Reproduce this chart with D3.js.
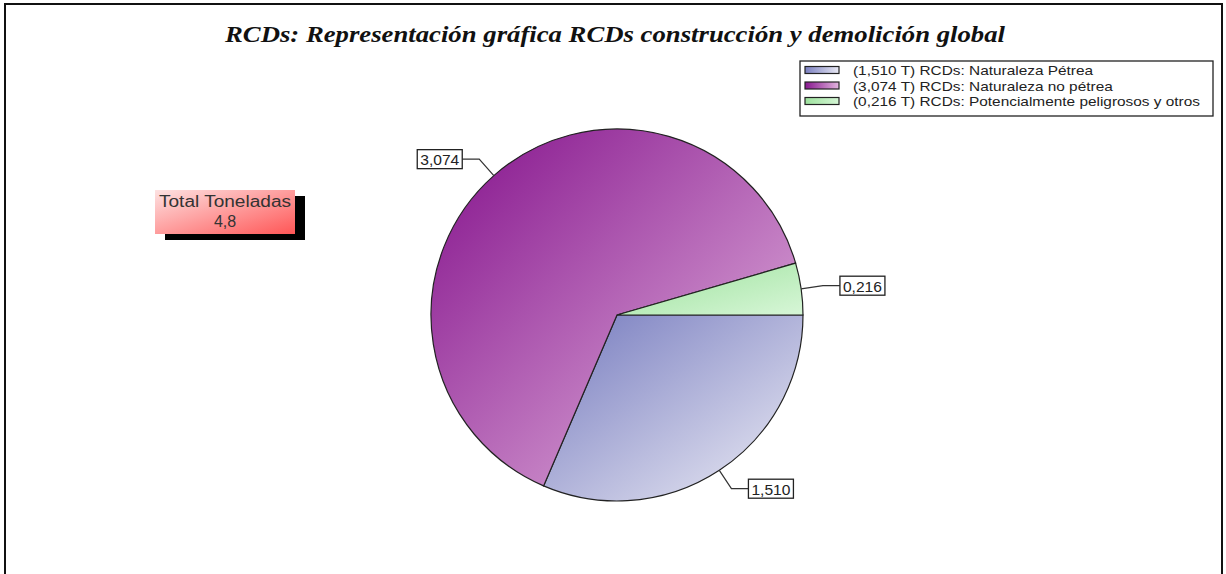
<!DOCTYPE html>
<html>
<head>
  <meta charset="utf-8">
  <script src="https://d3js.org/d3.v7.min.js"></script>
  <style>
    body { margin: 0; background: #fff; }
    svg { display: block; }
  </style>
</head>
<body>
<div id="chart"></div>

<script>
  // Chart data
  const categories = ["RCDs: Naturaleza Pétrea", "RCDs: Naturaleza no pétrea", "RCDs: Potencialmente peligrosos y otros"];
  const values = [1.510, 3.074, 0.216];
  const darkColors = ["#7b80c1", "#88188f", "#9ee29e"];
  const lightColors = ["#e8e8f3", "#e2b4de", "#d4f5d4"];
  const titleText = "RCDs: Representación gráfica RCDs construcción y demolición global";
  const totalLabel = "Total Toneladas";

  var width = 1226;
  var height = 574;
  var sans = "Liberation Sans, Arial, sans-serif";

  // Spanish number formatting (comma as decimal mark)
  var es = d3.formatLocale({decimal: ",", thousands: ".", grouping: [3], currency: ["", " €"]});
  var fmt3 = es.format(".3f");
  var fmtTotal = es.format(".1f");

  var svg = d3.select("#chart").append("svg")
      .attr("width", width)
      .attr("height", height);

  var defs = svg.append("defs");

  // Frame around the chart (bottom edge falls outside the picture)
  svg.append("path")
      .attr("d", "M5,580 L5,4 L1222,4 L1222,580")
      .attr("fill", "none")
      .attr("stroke", "#111")
      .attr("stroke-width", 2);

  // Title
  svg.append("text")
      .attr("x", 615)
      .attr("y", 42)
      .attr("text-anchor", "middle")
      .attr("font-family", "Liberation Serif, serif")
      .attr("font-style", "italic")
      .attr("font-weight", "bold")
      .attr("font-size", 24)
      .attr("textLength", 780)
      .attr("lengthAdjust", "spacingAndGlyphs")
      .attr("fill", "#111")
      .text(titleText);

  // Slice gradients (diagonal, dark top-left to light bottom-right)
  categories.forEach(function(c, i) {
    var g = defs.append("linearGradient")
        .attr("id", "slice" + i)
        .attr("x1", 0).attr("y1", 0).attr("x2", 1).attr("y2", 1);
    g.append("stop").attr("offset", "5%").attr("stop-color", darkColors[i]);
    g.append("stop").attr("offset", "95%").attr("stop-color", lightColors[i]);

    var l = defs.append("linearGradient")
        .attr("id", "leg" + i)
        .attr("x1", 0).attr("y1", 0).attr("x2", 1).attr("y2", 0);
    l.append("stop").attr("offset", "0%").attr("stop-color", darkColors[i]);
    l.append("stop").attr("offset", "100%").attr("stop-color", lightColors[i]);
  });

  // Pie
  var cx = 617, cy = 315, radius = 186;

  var pie = d3.pie()
      .sort(null)
      .startAngle(Math.PI / 2)
      .endAngle(Math.PI / 2 + 2 * Math.PI);

  var arc = d3.arc().innerRadius(0).outerRadius(radius);

  var arcs = pie(values);

  var pieG = svg.append("g")
      .attr("transform", "translate(" + cx + "," + cy + ")");

  pieG.selectAll("path.slice")
      .data(arcs)
      .enter()
      .append("path")
      .attr("class", "slice")
      .attr("d", arc)
      .attr("fill", function(d, i) { return "url(#slice" + i + ")"; })
      .attr("stroke", "#222")
      .attr("stroke-width", 1.2);

  // Value labels with leader lines
  arcs.forEach(function(d) {
    var a = (d.startAngle + d.endAngle) / 2;
    var sx = Math.sin(a), sy = -Math.cos(a);
    var p0 = [sx * radius, sy * radius];
    var p1 = [sx * (radius + 22), sy * (radius + 22)];
    var dir = sx >= 0 ? 1 : -1;
    var p2 = [p1[0] + dir * 17, p1[1]];

    pieG.append("polyline")
        .attr("points", [p0, p1, p2].map(function(p) { return p.join(","); }).join(" "))
        .attr("fill", "none")
        .attr("stroke", "#333")
        .attr("stroke-width", 1.2);

    var w = 45;
    var bx = dir > 0 ? p2[0] : p2[0] - w;
    pieG.append("rect")
        .attr("x", bx)
        .attr("y", p2[1] - 9.5)
        .attr("width", w)
        .attr("height", 19)
        .attr("fill", "#fff")
        .attr("stroke", "#222")
        .attr("stroke-width", 1.3);
    pieG.append("text")
        .attr("x", bx + w / 2)
        .attr("y", p2[1] + 1)
        .attr("text-anchor", "middle")
        .attr("dominant-baseline", "central")
        .attr("font-family", sans)
        .attr("font-size", 14)
        .attr("textLength", 39)
        .attr("lengthAdjust", "spacingAndGlyphs")
        .attr("fill", "#222")
        .text(fmt3(d.value));
  });

  // Legend
  var legend = svg.append("g").attr("transform", "translate(800,61)");
  legend.append("rect")
      .attr("width", 413)
      .attr("height", 55)
      .attr("fill", "#fff")
      .attr("stroke", "#222")
      .attr("stroke-width", 1.3);

  var rowY = d3.scalePoint().domain(d3.range(categories.length)).range([9, 40]);

  var legTexts = [];
  categories.forEach(function(c, i) {
    legend.append("rect")
        .attr("x", 5)
        .attr("y", rowY(i) - 3.5)
        .attr("width", 34)
        .attr("height", 7)
        .attr("fill", "url(#leg" + i + ")")
        .attr("stroke", "#222")
        .attr("stroke-width", 1.2);
    legTexts.push(legend.append("text")
        .attr("x", 53)
        .attr("y", rowY(i) + 0.5)
        .attr("dominant-baseline", "central")
        .attr("font-family", sans)
        .attr("font-size", 13.5)
        .attr("fill", "#222")
        .text("(" + fmt3(values[i]) + " T) " + c));
  });
  // stretch legend text so the longest line fills the box like the original
  var longest = d3.max(legTexts, function(t) { return t.node().getComputedTextLength(); });
  var stretch = 347 / longest;
  legTexts.forEach(function(t) {
    t.attr("textLength", t.node().getComputedTextLength() * stretch)
     .attr("lengthAdjust", "spacingAndGlyphs");
  });

  // Total box with drop shadow
  var totalGrad = defs.append("linearGradient")
      .attr("id", "totalGrad")
      .attr("x1", 0).attr("y1", 0).attr("x2", 1).attr("y2", 1);
  totalGrad.append("stop").attr("offset", "0%").attr("stop-color", "#fde2e2");
  totalGrad.append("stop").attr("offset", "100%").attr("stop-color", "#ff5656");

  var total = d3.sum(values);
  var tb = svg.append("g").attr("transform", "translate(155,190)");
  tb.append("rect")
      .attr("x", 10).attr("y", 6)
      .attr("width", 140).attr("height", 44)
      .attr("fill", "#000");
  tb.append("rect")
      .attr("width", 140).attr("height", 44)
      .attr("fill", "url(#totalGrad)");
  tb.append("text")
      .attr("x", 70).attr("y", 17)
      .attr("text-anchor", "middle")
      .attr("font-family", sans)
      .attr("font-size", 16)
      .attr("textLength", 132)
      .attr("lengthAdjust", "spacingAndGlyphs")
      .attr("fill", "#333")
      .text(totalLabel);
  tb.append("text")
      .attr("x", 70).attr("y", 37)
      .attr("text-anchor", "middle")
      .attr("font-family", sans)
      .attr("font-size", 16)
      .attr("fill", "#333")
      .text(fmtTotal(total));
</script>
</body>
</html>
